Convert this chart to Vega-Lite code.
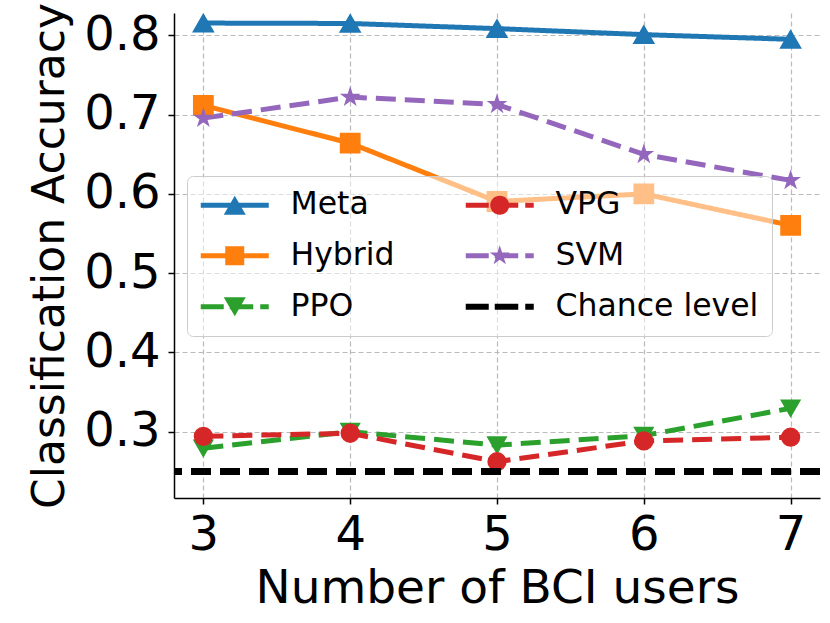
{
  "$schema": "https://vega.github.io/schema/vega-lite/v6.json",
  "description": "Classification accuracy vs number of BCI users for six methods.",
  "width": 646,
  "height": 485,
  "autosize": {"type": "none"},
  "padding": {"left": 174, "top": 13, "right": 10, "bottom": 125},
  "background": "white",
  "data": {
    "values": [
      {"users": 3, "series": "Meta", "acc": 0.8155},
      {"users": 4, "series": "Meta", "acc": 0.815},
      {"users": 5, "series": "Meta", "acc": 0.8085},
      {"users": 6, "series": "Meta", "acc": 0.8009},
      {"users": 7, "series": "Meta", "acc": 0.795},
      {"users": 3, "series": "Hybrid", "acc": 0.7116},
      {"users": 4, "series": "Hybrid", "acc": 0.664},
      {"users": 5, "series": "Hybrid", "acc": 0.5904},
      {"users": 6, "series": "Hybrid", "acc": 0.6},
      {"users": 7, "series": "Hybrid", "acc": 0.5603},
      {"users": 3, "series": "PPO", "acc": 0.279},
      {"users": 4, "series": "PPO", "acc": 0.3},
      {"users": 5, "series": "PPO", "acc": 0.283},
      {"users": 6, "series": "PPO", "acc": 0.295},
      {"users": 7, "series": "PPO", "acc": 0.3295},
      {"users": 3, "series": "VPG", "acc": 0.2941},
      {"users": 4, "series": "VPG", "acc": 0.298},
      {"users": 5, "series": "VPG", "acc": 0.2621},
      {"users": 6, "series": "VPG", "acc": 0.2883},
      {"users": 7, "series": "VPG", "acc": 0.293},
      {"users": 3, "series": "SVM", "acc": 0.6956},
      {"users": 4, "series": "SVM", "acc": 0.7221},
      {"users": 5, "series": "SVM", "acc": 0.7129},
      {"users": 6, "series": "SVM", "acc": 0.6498},
      {"users": 7, "series": "SVM", "acc": 0.617}
    ]
  },
  "encoding": {
    "x": {
      "field": "users",
      "type": "quantitative",
      "scale": {"domain": [2.8, 7.2], "nice": false, "zero": false},
      "axis": {
        "title": "Number of BCI users",
        "titleFontSize": 47,
        "values": [3, 4, 5, 6, 7],
        "format": "d",
        "labelPadding": 7,
        "titlePadding": 6
      }
    },
    "y": {
      "field": "acc",
      "type": "quantitative",
      "scale": {"domain": [0.2163, 0.8282], "nice": false, "zero": false},
      "axis": {
        "title": "Classification Accuracy",
        "titleFontSize": 44,
        "values": [0.3, 0.4, 0.5, 0.6, 0.7, 0.8],
        "format": ".1f",
        "labelPadding": 8,
        "titlePadding": 11
      }
    },
    "color": {
      "field": "series",
      "type": "nominal",
      "legend": null,
      "scale": {
        "domain": ["Meta", "Hybrid", "PPO", "VPG", "SVM", "Chance level"],
        "range": ["#1f77b4", "#ff7f0e", "#2ca02c", "#d62728", "#9467bd", "#000000"]
      }
    }
  },
  "layer": [
    {
      "mark": {"type": "line", "strokeWidth": 5},
      "encoding": {
        "strokeDash": {
          "field": "series",
          "type": "nominal",
          "legend": null,
          "scale": {
            "domain": ["Meta", "Hybrid", "PPO", "VPG", "SVM"],
            "range": [[1, 0], [1, 0], [20, 9], [20, 9], [20, 9]]
          }
        }
      }
    },
    {
      "mark": {"type": "point", "filled": true, "opacity": 1, "strokeWidth": 1.5},
      "encoding": {
        "stroke": {
          "field": "series",
          "type": "nominal",
          "legend": null,
          "scale": {
            "domain": ["Meta", "Hybrid", "PPO", "VPG", "SVM"],
            "range": ["#1f77b4", "#ff7f0e", "#2ca02c", "#d62728", "#9467bd"]
          }
        },
        "shape": {
          "field": "series",
          "type": "nominal",
          "legend": null,
          "scale": {
            "domain": ["Meta", "Hybrid", "PPO", "VPG", "SVM"],
            "range": [
              "triangle-up",
              "square",
              "triangle-down",
              "circle",
              "M0,-1L0.2245,-0.309L0.9511,-0.309L0.3633,0.118L0.5878,0.809L0,0.382L-0.5878,0.809L-0.3633,0.118L-0.9511,-0.309L-0.2245,-0.309Z"
            ]
          }
        },
        "size": {
          "field": "series",
          "type": "nominal",
          "legend": null,
          "scale": {
            "domain": ["Meta", "Hybrid", "PPO", "VPG", "SVM"],
            "range": [400, 289, 400, 289, 500]
          }
        }
      }
    },
    {
      "mark": {"type": "rule", "color": "black", "strokeWidth": 6, "strokeDash": [20, 9]},
      "encoding": {
        "x": null,
        "color": null,
        "y": {"datum": 0.25}
      }
    },
    {
      "mark": {"type": "point", "filled": true, "opacity": 0},
      "encoding": {
        "color": {
          "field": "series",
          "type": "nominal",
          "scale": {
            "domain": ["Meta", "Hybrid", "PPO", "VPG", "SVM", "Chance level"],
            "range": ["#1f77b4", "#ff7f0e", "#2ca02c", "#d62728", "#9467bd", "#000000"]
          },
          "legend": {
            "title": null,
            "orient": "none",
            "legendX": 13,
            "legendY": 163,
            "columns": 2,
            "symbolSize": 400,
            "symbolOffset": 19,
            "labelOffset": 40,
            "labelFontSize": 31.5,
            "labelFont": "DejaVu Sans",
            "labelColor": "black",
            "labelLimit": 400,
            "columnPadding": 70,
            "rowPadding": 18,
            "padding": 13,
            "fillColor": "rgba(255,255,255,0.5)",
            "strokeColor": "#cccccc",
            "cornerRadius": 6,
            "symbolOpacity": 1,
            "symbolStrokeWidth": 0
          }
        },
        "shape": {
          "field": "series",
          "type": "nominal",
          "scale": {
            "domain": ["Meta", "Hybrid", "PPO", "VPG", "SVM", "Chance level"],
            "range": [
              "M-3.4,-0.25H3.4V0.25H-3.4Z M0,-0.95L1.1,0.95L-1.1,0.95Z",
              "M-3.4,-0.25H3.4V0.25H-3.4Z M-0.95,-0.95H0.95V0.95H-0.95Z",
              "M-3.4,-0.25H-1.1V0.25H-3.4Z M-0.5,-0.25H1.85V0.25H-0.5Z M2.55,-0.25H3.4V0.25H2.55Z M0,0.95L-1.1,-0.95L1.1,-0.95Z",
              "M-3.4,-0.25H-1.1V0.25H-3.4Z M-0.5,-0.25H1.85V0.25H-0.5Z M2.55,-0.25H3.4V0.25H2.55Z M-0.95,0A0.95,0.95 0 1,1 0.95,0A0.95,0.95 0 1,1 -0.95,0Z",
              "M-3.4,-0.25H-1.1V0.25H-3.4Z M-0.5,-0.25H1.85V0.25H-0.5Z M2.55,-0.25H3.4V0.25H2.55Z M0,-1.05L0.2357,-0.3244L0.9986,-0.3245L0.3814,0.1239L0.6172,0.8495L0,0.401L-0.6172,0.8495L-0.3814,0.1239L-0.9986,-0.3245L-0.2357,-0.3244Z",
              "M-3.4,-0.3H-1.1V0.3H-3.4Z M-0.5,-0.3H1.85V0.3H-0.5Z M2.55,-0.3H3.4V0.3H2.55Z"
            ]
          },
          "legend": {
            "title": null,
            "orient": "none",
            "legendX": 13,
            "legendY": 163,
            "columns": 2,
            "symbolSize": 400,
            "symbolOffset": 19,
            "labelOffset": 40,
            "labelFontSize": 31.5,
            "labelFont": "DejaVu Sans",
            "labelColor": "black",
            "labelLimit": 400,
            "columnPadding": 70,
            "rowPadding": 18,
            "padding": 13,
            "fillColor": "rgba(255,255,255,0.5)",
            "strokeColor": "#cccccc",
            "cornerRadius": 6,
            "symbolOpacity": 1,
            "symbolStrokeWidth": 0
          }
        }
      }
    }
  ],
  "resolve": {"scale": {"shape": "independent", "size": "independent", "color": "independent"}},
  "config": {
    "font": "DejaVu Sans",
    "view": {"stroke": null},
    "axis": {
      "labelFont": "DejaVu Sans",
      "labelFontSize": 48,
      "labelColor": "black",
      "titleFont": "DejaVu Sans",
      "titleFontSize": 45,
      "titleFontWeight": "normal",
      "titleColor": "black",
      "domainColor": "black",
      "domainWidth": 1.5,
      "tickColor": "black",
      "tickWidth": 1.5,
      "tickSize": 6,
      "grid": true,
      "gridColor": "#bbbbbb",
      "gridWidth": 1.2,
      "gridDash": [5, 3],
      "labelFlush": false,
      "labelOverlap": false
    }
  }
}
